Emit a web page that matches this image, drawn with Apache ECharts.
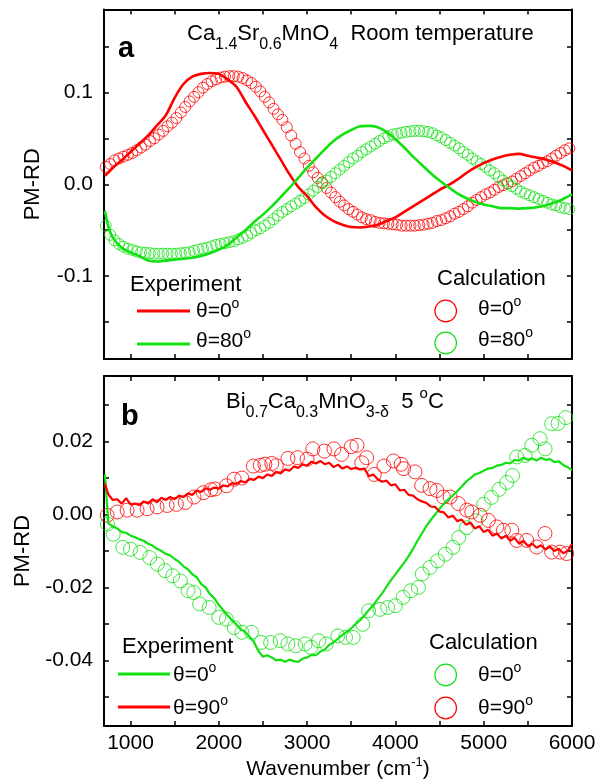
<!DOCTYPE html>
<html><head><meta charset="utf-8">
<script src="https://cdn.jsdelivr.net/npm/echarts@6/dist/echarts.min.js"></script>
<style>html,body{margin:0;padding:0;background:#fff;}#c{width:602px;height:784px;}</style>
</head><body><div id="c"></div>
<script>
// ---------- axis ticks / labels ----------
const xTickValues = [1000,1500,2000,2500,3000,3500,4000,4500,5000,5500,6000];
const xLabelValues = [1000,2000,3000,4000,5000,6000];
const yTicksA = [-0.15,-0.1,-0.05,0,0.05,0.1,0.15];
const yLabelsA = [-0.1,0,0.1];
const yTicksB = [-0.05,-0.04,-0.03,-0.02,-0.01,0,0.01,0.02,0.03];
const yLabelsB = [-0.04,-0.02,0,0.02];

// ---------- panel a : experiment ----------
const expAx = [710,750,800,900,1000,1100,1200,1300,1400,1500,1600,1700,1800,1900,2000,2100,2200,2300,2400,2500,2600,2700,2800,2900,3000,3100,3200,3300,3400,3500,3600,3700,3800,3900,4000,4100,4200,4300,4400,4500,4600,4700,4800,4900,5000,5100,5200,5300,5400,5500,5600,5700,5800,5900,6000];
const expA_red0 = [0.009,0.013,0.018,0.026,0.035,0.044,0.053,0.064,0.075,0.094,0.109,0.117,0.120,0.121,0.120,0.114,0.106,0.090,0.075,0.059,0.043,0.027,0.011,-0.003,-0.013,-0.025,-0.034,-0.040,-0.044,-0.0465,-0.047,-0.046,-0.044,-0.040,-0.036,-0.030,-0.024,-0.018,-0.012,-0.006,-0.001,0.005,0.012,0.018,0.023,0.027,0.030,0.032,0.033,0.031,0.029,0.027,0.024,0.020,0.015];
const expA_green80 = [-0.029,-0.046,-0.058,-0.069,-0.074,-0.078,-0.083,-0.084,-0.083,-0.082,-0.081,-0.080,-0.078,-0.075,-0.071,-0.066,-0.058,-0.050,-0.041,-0.033,-0.024,-0.014,-0.004,0.007,0.018,0.028,0.038,0.047,0.054,0.059,0.063,0.0635,0.062,0.057,0.049,0.040,0.030,0.021,0.012,0.004,-0.003,-0.010,-0.015,-0.019,-0.022,-0.024,-0.026,-0.026,-0.0265,-0.026,-0.025,-0.023,-0.020,-0.016,-0.011];

// ---------- panel a : calculation ----------
const calcAx = [720,770,820,870,920,970,1020,1070,1120,1170,1220,1270,1320,1370,1420,1470,1520,1570,1620,1670,1720,1770,1820,1870,1920,1970,2020,2070,2120,2170,2220,2270,2320,2370,2420,2470,2520,2570,2620,2670,2720,2770,2820,2870,2920,2970,3020,3070,3120,3170,3220,3270,3320,3370,3420,3470,3520,3570,3620,3670,3720,3770,3820,3870,3920,3970,4020,4070,4120,4170,4220,4270,4320,4370,4420,4470,4520,4570,4620,4670,4720,4770,4820,4870,4920,4970,5020,5070,5120,5170,5220,5270,5320,5370,5420,5470,5520,5570,5620,5670,5720,5770,5820,5870,5920,5970];
const calcA_red0 = [0.019,0.022,0.026,0.028,0.030,0.032,0.034,0.037,0.040,0.043,0.047,0.050,0.054,0.058,0.063,0.067,0.072,0.078,0.084,0.090,0.095,0.100,0.105,0.109,0.112,0.114,0.116,0.117,0.1175,0.1175,0.117,0.1155,0.113,0.110,0.106,0.101,0.095,0.089,0.082,0.076,0.070,0.062,0.053,0.044,0.035,0.028,0.020,0.013,0.007,0.002,-0.004,-0.009,-0.014,-0.019,-0.023,-0.027,-0.030,-0.033,-0.036,-0.038,-0.039,-0.041,-0.042,-0.0425,-0.043,-0.0435,-0.044,-0.045,-0.045,-0.045,-0.045,-0.0445,-0.044,-0.043,-0.042,-0.040,-0.039,-0.037,-0.035,-0.032,-0.030,-0.027,-0.024,-0.020,-0.017,-0.014,-0.011,-0.009,-0.006,-0.003,-0.001,0.001,0.003,0.006,0.009,0.012,0.015,0.018,0.020,0.023,0.025,0.028,0.031,0.034,0.037,0.039];
const calcA_green80 = [-0.045,-0.055,-0.061,-0.065,-0.068,-0.070,-0.0715,-0.073,-0.074,-0.0745,-0.075,-0.0755,-0.0755,-0.0755,-0.0755,-0.0755,-0.0755,-0.075,-0.0745,-0.074,-0.0725,-0.071,-0.070,-0.069,-0.0675,-0.066,-0.065,-0.064,-0.063,-0.062,-0.060,-0.058,-0.056,-0.053,-0.050,-0.048,-0.045,-0.042,-0.038,-0.034,-0.030,-0.027,-0.024,-0.021,-0.018,-0.015,-0.011,-0.007,-0.003,0.001,0.004,0.008,0.012,0.016,0.020,0.024,0.028,0.031,0.035,0.038,0.041,0.044,0.047,0.050,0.052,0.054,0.055,0.056,0.057,0.0575,0.058,0.058,0.0575,0.057,0.0555,0.053,0.051,0.048,0.045,0.042,0.039,0.035,0.032,0.028,0.025,0.022,0.019,0.015,0.012,0.008,0.004,0.001,-0.002,-0.005,-0.008,-0.010,-0.012,-0.014,-0.016,-0.018,-0.020,-0.022,-0.023,-0.025,-0.026,-0.027];

// ---------- panel b : experiment ----------
const expBx = [710,750,800,850,900,950,1000,1050,1100,1150,1200,1250,1300,1350,1400,1450,1500,1550,1600,1650,1700,1750,1800,1850,1900,1950,2000,2050,2100,2150,2200,2250,2300,2350,2400,2450,2500,2550,2600,2650,2700,2750,2800,2850,2900,2950,3000,3050,3100,3150,3200,3250,3300,3350,3400,3450,3500,3550,3600,3650,3700,3750,3800,3850,3900,3950,4000,4050,4100,4150,4200,4250,4300,4350,4400,4450,4500,4550,4600,4650,4700,4750,4800,4850,4900,4950,5000,5050,5100,5150,5200,5250,5300,5350,5400,5450,5500,5550,5600,5650,5700,5750,5800,5850,5900,5950,6000];
const expB_green0 = [0.0110,-0.0025,-0.0032,-0.0038,-0.0048,-0.0050,-0.0058,-0.0062,-0.0068,-0.0072,-0.0080,-0.0085,-0.0094,-0.0100,-0.0108,-0.0112,-0.0122,-0.0130,-0.0142,-0.0150,-0.0164,-0.0172,-0.0190,-0.0200,-0.0218,-0.0230,-0.0248,-0.0262,-0.0276,-0.0290,-0.0302,-0.0315,-0.0322,-0.0336,-0.0350,-0.0375,-0.0390,-0.0386,-0.0392,-0.0400,-0.0398,-0.0404,-0.0398,-0.0402,-0.0404,-0.0395,-0.0392,-0.0385,-0.0386,-0.0376,-0.0370,-0.0358,-0.0350,-0.0340,-0.0330,-0.0322,-0.0312,-0.0300,-0.0290,-0.0276,-0.0262,-0.0248,-0.0232,-0.0216,-0.0198,-0.0180,-0.0164,-0.0148,-0.0132,-0.0114,-0.0094,-0.0072,-0.0052,-0.0032,-0.0015,0.0000,0.0016,0.0030,0.0042,0.0052,0.0064,0.0076,0.0090,0.0100,0.0110,0.0114,0.0120,0.0126,0.0128,0.0134,0.0136,0.0142,0.0140,0.0150,0.0148,0.0156,0.0150,0.0154,0.0148,0.0156,0.0150,0.0152,0.0144,0.0146,0.0136,0.0130,0.0122];
const expB_red90 = [0.0085,0.0055,0.0040,0.0042,0.0030,0.0045,0.0028,0.0030,0.0026,0.0036,0.0030,0.0042,0.0034,0.0046,0.0040,0.0048,0.0042,0.0052,0.0048,0.0058,0.0054,0.0066,0.0062,0.0072,0.0068,0.0074,0.0071,0.0080,0.0077,0.0086,0.0084,0.0092,0.0088,0.0098,0.0095,0.0104,0.0100,0.0110,0.0106,0.0117,0.0113,0.0124,0.0120,0.0132,0.0128,0.0138,0.0134,0.0145,0.0140,0.0147,0.0138,0.0142,0.0130,0.0137,0.0126,0.0132,0.0125,0.0128,0.0124,0.0126,0.0105,0.0110,0.0097,0.0090,0.0093,0.0080,0.0083,0.0066,0.0068,0.0054,0.0052,0.0042,0.0036,0.0032,0.0022,0.0021,0.0008,0.0006,-0.0008,-0.0003,-0.0018,-0.0014,-0.0028,-0.0022,-0.0038,-0.0032,-0.0048,-0.0042,-0.0058,-0.0052,-0.0066,-0.0058,-0.0072,-0.0064,-0.0080,-0.0072,-0.0086,-0.0080,-0.0091,-0.0084,-0.0096,-0.0088,-0.0100,-0.0094,-0.0106,-0.0100,-0.0080];

// ---------- panel b : calculation ----------
const calcBx_green0 = [739,804,913,1000,1109,1217,1304,1391,1478,1565,1652,1717,1783,1891,2000,2087,2174,2261,2370,2478,2587,2696,2783,2870,2978,3043,3130,3217,3348,3435,3522,3630,3696,3826,3913,4000,4087,4174,4261,4304,4391,4478,4565,4652,4717,4804,4913,5000,5087,5174,5261,5326,5374,5468,5544,5638,5695,5770,5842,5929];
const calcB_green0 = [-0.0026,-0.0054,-0.0090,-0.0095,-0.0104,-0.0118,-0.0136,-0.0154,-0.0168,-0.0182,-0.0209,-0.0214,-0.0245,-0.0255,-0.0282,-0.0287,-0.0310,-0.0323,-0.0323,-0.0351,-0.0351,-0.0346,-0.0355,-0.0360,-0.0355,-0.0364,-0.0346,-0.0355,-0.0333,-0.0337,-0.0337,-0.0301,-0.0264,-0.0260,-0.0255,-0.0250,-0.0227,-0.0209,-0.0200,-0.0163,-0.0145,-0.0127,-0.0109,-0.0090,-0.0063,-0.0036,-0.0017,0.0028,0.0047,0.0069,0.0088,0.0107,0.0158,0.0162,0.0190,0.0208,0.0180,0.0249,0.0250,0.0266];
const calcBx_red90 = [736,849,962,1075,1188,1301,1415,1520,1620,1720,1826,1910,1957,2087,2174,2261,2391,2470,2522,2600,2652,2783,2891,3000,3065,3196,3304,3391,3500,3565,3620,3674,3761,3870,3978,4065,4092,4222,4298,4392,4468,4544,4620,4714,4809,4865,4959,5053,5148,5223,5318,5374,5487,5600,5694,5770,5864,5940];
const calcB_red90 = [-0.0002,0.0007,0.0012,0.0012,0.0016,0.0021,0.0025,0.0028,0.0033,0.0048,0.0060,0.0068,0.0070,0.0079,0.0097,0.0100,0.0133,0.0135,0.0138,0.0140,0.0134,0.0154,0.0156,0.0152,0.0180,0.0174,0.0180,0.0165,0.0186,0.0190,0.0142,0.0156,0.0110,0.0133,0.0147,0.0138,0.0126,0.0117,0.0080,0.0071,0.0066,0.0048,0.0048,0.0030,0.0012,0.0007,-0.0002,-0.0016,-0.0034,-0.0043,-0.0043,-0.0071,-0.0071,-0.0089,-0.0052,-0.0103,-0.0103,-0.0107];

// ---------- texts ----------
const titleA = [['Ca'],['1.4','sub'],['Sr'],['0.6','sub'],['MnO'],['4','sub'],['  Room temperature']];
const titleB = [['Bi'],['0.7','sub'],['Ca'],['0.3','sub'],['MnO'],['3-\u03b4','sub'],['  5 '],['o','sup'],['C']];
const legA = {head1:'Experiment', head2:'Calculation', l1:[['\u03b8=0'],['o','sup']], l2:[['\u03b8=80'],['o','sup']]};
const legB = {head1:'Experiment', head2:'Calculation', l1:[['\u03b8=0'],['o','sup']], l2:[['\u03b8=90'],['o','sup']]};

const RED = '#ff0000', GREEN = '#11e011';
const FONT = '"Liberation Sans", Arial, Helvetica, sans-serif';

function zip(xs, ys){ return xs.map((x,i)=>[x, ys[i]]); }

const mctx = document.createElement('canvas').getContext('2d');
function seq(parts, x, baseline, size){
  const els = []; let cx = x;
  parts.forEach(p => {
    const txt = p[0], kind = p[1];
    let fs = size, dy = 0, weight = 'normal';
    if (kind === 'sub'){ fs = Math.round(size*0.72); dy = size*0.36; }
    if (kind === 'sup'){ fs = Math.round(size*0.66); dy = -size*0.48; }
    if (kind === 'bold'){ weight = 'bold'; }
    mctx.font = weight + ' ' + fs + 'px ' + FONT;
    const w = mctx.measureText(txt).width;
    els.push({type:'text', x: cx, y: baseline + dy - 0.35*fs, silent:true, z:100,
      style:{text: txt, fontSize: fs, fontFamily: FONT, fontWeight: weight, fill:'#000',
             align:'left', verticalAlign:'middle', textAlign:'left', textVerticalAlign:'middle'}});
    cx += w;
  });
  return els;
}
function hline(x1,x2,y,color){ return {type:'line', silent:true, z:100, shape:{x1:x1,y1:y,x2:x2,y2:y}, style:{stroke:color, lineWidth:3}}; }
function ring(cx,cy,color){ return {type:'circle', silent:true, z:100, shape:{cx:cx,cy:cy,r:10.8}, style:{fill:'none', stroke:color, lineWidth:1.2}}; }

const graphics = [].concat(
  seq([['a','bold']], 118, 59, 29),
  seq(titleA, 187, 42, 22),
  seq([[legA.head1]], 130, 293, 22),
  hline(137,190,311,RED), seq(legA.l1, 196, 319, 21),
  hline(137,190,344,GREEN), seq(legA.l2, 196, 349, 21),
  seq([[legA.head2]], 437, 287, 22),
  ring(445.7,311,RED), seq(legA.l1, 478, 317, 21),
  ring(445.7,343,GREEN), seq(legA.l2, 478, 348, 21),

  seq([['b','bold']], 121, 427, 29),
  seq(titleB, 226, 410, 22),
  seq([[legB.head1]], 122, 655, 22),
  hline(118,170,674,GREEN), seq(legB.l1, 173, 683, 21),
  hline(118,170,707,RED), seq(legB.l2, 173, 716, 21),
  seq([[legB.head2]], 429, 651, 22),
  ring(445.7,675,GREEN), seq(legB.l1, 478, 683, 21),
  ring(445.7,708,RED), seq(legB.l2, 478, 716, 21)
);

const axLine = {show:true, onZero:false, lineStyle:{color:'#000', width:2}};
function xAx(grid, pos, labels, extra){
  return Object.assign({type:'value', gridIndex:grid, position:pos, min:700, max:6000,
    axisLine:axLine, splitLine:{show:false},
    axisTick:{show:true, inside:true, length:5, customValues:xTickValues, lineStyle:{color:'#000', width:1.5}},
    axisLabel: labels ? {show:true, customValues:xLabelValues, fontSize:21, color:'#000', fontFamily:FONT, margin:7,
      formatter:(v)=>String(Math.round(v))} : {show:false}
  }, extra||{});
}
function yAx(grid, pos, min, max, ticks, labs, dec, extra){
  return Object.assign({type:'value', gridIndex:grid, position:pos, min:min, max:max,
    axisLine:axLine, splitLine:{show:false},
    axisTick:{show:true, inside:true, length:5, customValues:ticks, lineStyle:{color:'#000', width:1.5}},
    axisLabel: labs ? {show:true, customValues:labs, fontSize:21, color:'#000', fontFamily:FONT, margin:11,
       formatter:(v)=>Number(v).toFixed(dec)} : {show:false}
  }, extra||{});
}
const yName = {name:'PM-RD', nameLocation:'middle', nameGap:60, nameTextStyle:{fontSize:22, color:'#000', fontFamily:FONT}};

const option = {
  animation:false,
  backgroundColor:'#fff',
  grid:[
    {left:104, top:9.5, width:468, height:349.5, show:false},
    {left:104, top:376, width:468, height:350, show:false}
  ],
  xAxis:[
    xAx(0,'bottom',false),
    xAx(0,'top',false),
    xAx(1,'bottom',true,{name:'Wavenumber (cm{s|-1})', nameLocation:'middle', nameGap:30,
      nameTextStyle:{fontSize:21, color:'#000', fontFamily:FONT, lineHeight:26,
        rich:{s:{fontSize:13, fontFamily:FONT, color:'#000', verticalAlign:'top', lineHeight:26, padding:[0,0,6,0]}}}}),
    xAx(1,'top',false)
  ],
  yAxis:[
    yAx(0,'left',-0.19,0.19,yTicksA,yLabelsA,1,yName),
    yAx(0,'right',-0.19,0.19,yTicksA,null,1),
    yAx(1,'left',-0.058,0.038,yTicksB,yLabelsB,2,yName),
    yAx(1,'right',-0.058,0.038,yTicksB,null,2)
  ],
  series:[
    {type:'scatter', xAxisIndex:0, yAxisIndex:0, data:zip(calcAx,calcA_red0), symbol:'circle', symbolSize:11, silent:true,
      itemStyle:{color:'rgba(0,0,0,0)', borderColor:RED, borderWidth:1}},
    {type:'scatter', xAxisIndex:0, yAxisIndex:0, data:zip(calcAx,calcA_green80), symbol:'circle', symbolSize:11, silent:true,
      itemStyle:{color:'rgba(0,0,0,0)', borderColor:GREEN, borderWidth:1}},
    {type:'line', xAxisIndex:0, yAxisIndex:0, data:zip(expAx,expA_red0), showSymbol:false, smooth:0.3, silent:true,
      lineStyle:{color:RED, width:2.6}},
    {type:'line', xAxisIndex:0, yAxisIndex:0, data:zip(expAx,expA_green80), showSymbol:false, smooth:0.3, silent:true,
      lineStyle:{color:GREEN, width:2.6}},

    {type:'scatter', xAxisIndex:2, yAxisIndex:2, data:zip(calcBx_green0,calcB_green0), symbol:'circle', symbolSize:14, silent:true,
      itemStyle:{color:'rgba(0,0,0,0)', borderColor:GREEN, borderWidth:1}},
    {type:'scatter', xAxisIndex:2, yAxisIndex:2, data:zip(calcBx_red90,calcB_red90), symbol:'circle', symbolSize:14, silent:true,
      itemStyle:{color:'rgba(0,0,0,0)', borderColor:RED, borderWidth:1}},
    {type:'line', xAxisIndex:2, yAxisIndex:2, data:zip(expBx,expB_green0), showSymbol:false, silent:true,
      lineStyle:{color:GREEN, width:2.2}},
    {type:'line', xAxisIndex:2, yAxisIndex:2, data:zip(expBx,expB_red90), showSymbol:false, silent:true,
      lineStyle:{color:RED, width:2.2}}
  ],
  graphic: graphics
};
const chart = echarts.init(document.getElementById('c'), null, {renderer:'canvas'});
chart.setOption(option);
</script>
</body></html>
